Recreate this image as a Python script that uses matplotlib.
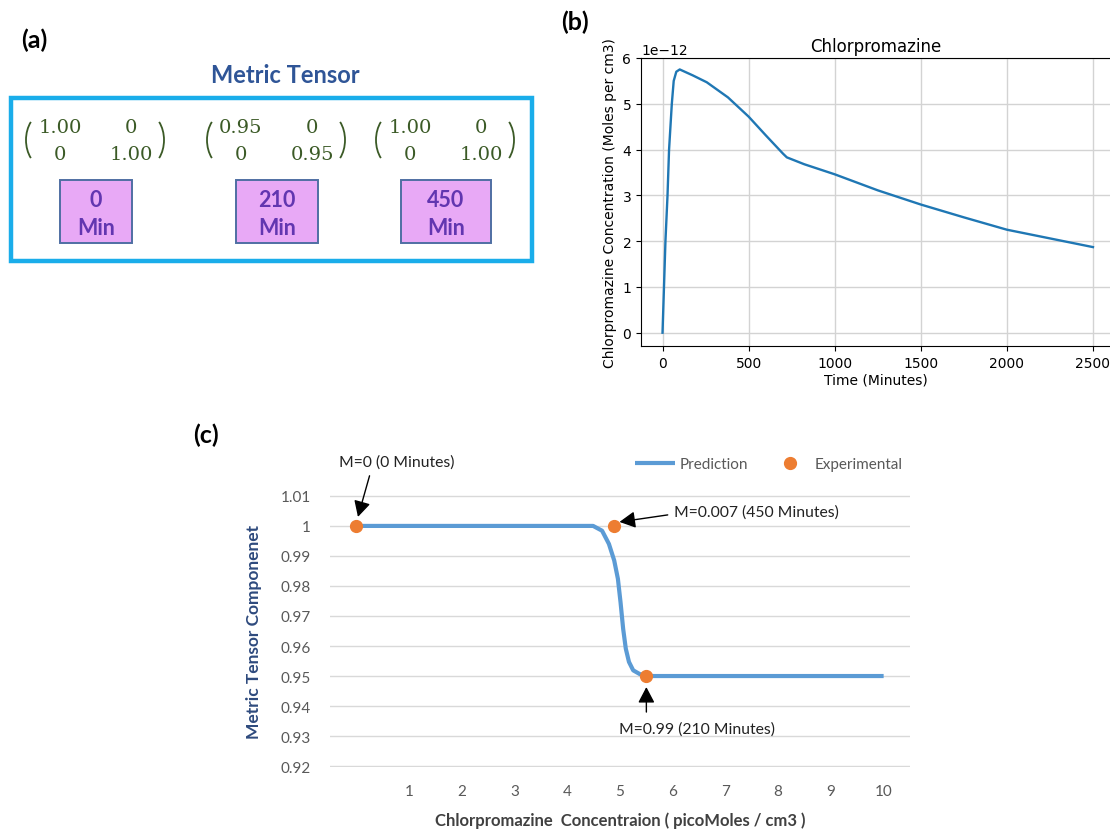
import numpy as np
import matplotlib.pyplot as plt
from matplotlib.patches import Rectangle, Arc

# (a) metric tensor components at each sampling time
tensor_times = [0, 210, 450]
tensor_g11 = [1.00, 0.95, 1.00]
tensor_g22 = [1.00, 0.95, 1.00]

# (b) simulated plasma concentration (moles per cm3)
time_min = [0, 17, 29, 38, 54, 65, 80, 100, 176, 257, 380, 500, 600, 700,
            722, 823, 1000, 1250, 1500, 1750, 2000, 2250, 2500]
conc_e12 = [0, 2.0, 3.0, 4.0, 5.0, 5.5, 5.7, 5.75, 5.62, 5.47, 5.14, 4.72,
            4.31, 3.91, 3.83, 3.68, 3.46, 3.11, 2.8, 2.52, 2.25, 2.06, 1.87]

# (c) metric tensor component vs concentration
pred_x = [0, 1, 2, 3, 4, 4.49, 4.66, 4.79, 4.89, 4.96, 5.01, 5.06, 5.11,
          5.17, 5.25, 5.38, 5.63, 6, 7, 8, 9, 10]
pred_y = [1, 1, 1, 1, 1, 1.0, 0.9984, 0.994, 0.9885, 0.9824, 0.9746, 0.9657,
          0.9591, 0.9547, 0.9519, 0.9506, 0.95, 0.95, 0.95, 0.95, 0.95, 0.95]
exp_x = [0, 4.88, 5.5]
exp_y = [1.0, 1.0, 0.95]
exp_labels = ["M=0 (0 Minutes)", "M=0.007 (450 Minutes)", "M=0.99 (210 Minutes)"]
y_ticks = [0.92, 0.93, 0.94, 0.95, 0.96, 0.97, 0.98, 0.99, 1.0, 1.01]
x_ticks = [1, 2, 3, 4, 5, 6, 7, 8, 9, 10]

W, H = 1110, 837
fig = plt.figure(figsize=(W / 100, H / 100), dpi=100)
sans = ['Lato', 'DejaVu Sans']

# overlay in pixel units for panel (a) and the panel letters
ov = fig.add_axes([0, 0, 1, 1])
ov.set_xlim(0, W)
ov.set_ylim(H, 0)
ov.axis('off')
ov.set_zorder(5)

for lbl, (px, py) in zip(['(a)', '(b)', '(c)'], [(34, 40), (575, 22), (206, 435)]):
    ov.text(px, py, lbl, family=sans, fontsize=18, fontweight='bold',
            ha='center', va='center', color='black')

ov.text(285, 75, 'Metric Tensor', family=sans, fontsize=17, fontweight='bold',
        color='#2F5597', ha='center', va='center')
ov.add_patch(Rectangle((11, 99), 521, 163, fill=False, edgecolor='#1AADEA', lw=3.2))

green = '#3B5A26'
mat_cx = [95, 276, 445]
box_w = [72, 82, 90]
for cx, bw, g11, g22, t in zip(mat_cx, box_w, tensor_g11, tensor_g22, tensor_times):
    ov.text(cx - 35, 128, f'{g11:.2f}', family='DejaVu Serif', fontsize=14,
            color=green, ha='center', va='center')
    ov.text(cx + 36, 128, '0', family='DejaVu Serif', fontsize=14,
            color=green, ha='center', va='center')
    ov.text(cx - 35, 155, '0', family='DejaVu Serif', fontsize=14,
            color=green, ha='center', va='center')
    ov.text(cx + 36, 155, f'{g22:.2f}', family='DejaVu Serif', fontsize=14,
            color=green, ha='center', va='center')
    ov.add_patch(Arc((cx - 50, 141), 38, 54, theta1=128, theta2=232,
                     color=green, lw=1.3))
    ov.add_patch(Arc((cx + 50, 141), 38, 54, theta1=-52, theta2=52,
                     color=green, lw=1.3))
    ov.add_patch(Rectangle((cx + 1 - bw / 2, 181), bw, 63, facecolor='#E8A9F6',
                           edgecolor='#4F6FA3', lw=1.4))
    ov.text(cx + 1, 200, f'{t}', family=sans, fontsize=15.5, fontweight='bold',
            color='#6236B0', ha='center', va='center')
    ov.text(cx + 1, 228, 'Min', family=sans, fontsize=15.5, fontweight='bold',
            color='#6236B0', ha='center', va='center')

# (b) concentration-time curve
axb = fig.add_axes([641 / W, 1 - 347 / H, (W - 641) / W, (347 - 59) / H])
axb.plot(time_min, np.array(conc_e12) * 1e-12, color='#1f77b4', lw=1.7)
axb.set_xlim(-125, 2599)
axb.set_ylim(-0.29e-12, 6e-12)
axb.set_xticks([0, 500, 1000, 1500, 2000, 2500])
axb.grid(True, color='#d3d3d3', lw=1)
axb.set_axisbelow(True)
axb.spines['right'].set_visible(False)
axb.tick_params(labelsize=10)
axb.yaxis.get_offset_text().set_fontsize(10)
axb.set_title('Chlorpromazine', fontsize=12, pad=5)
axb.set_xlabel('Time (Minutes)', fontsize=10, labelpad=2)
axb.set_ylabel('Chlorpromazine Concentration (Moles per cm3)', fontsize=10, labelpad=4)

# (c) predicted vs experimental metric tensor component
axc = fig.add_axes([330 / W, 1 - 768 / H, 580 / W, 272 / H])
axc.plot(pred_x, pred_y, color='#5B9BD5', lw=3, solid_capstyle='butt',
         label='Prediction', zorder=3)
axc.plot(exp_x, exp_y, 'o', color='#ED7D31', ms=8.5, label='Experimental', zorder=4)
axc.set_xlim(-0.5, 10.5)
axc.set_ylim(0.9197, 1.0103)
axc.set_xticks(x_ticks)
axc.set_yticks(y_ticks)
axc.set_yticklabels([f'{v:g}' for v in y_ticks])
axc.grid(True, axis='y', color='#D9D9D9', lw=1)
axc.set_axisbelow(True)
for s in axc.spines.values():
    s.set_visible(False)
axc.tick_params(length=0, labelcolor='#595959', labelsize=11)
axc.tick_params(axis='y', pad=14)
axc.tick_params(axis='x', pad=12)
for lab in axc.get_xticklabels() + axc.get_yticklabels():
    lab.set_family(sans)
axc.set_ylabel('Metric Tensor Componenet', family=sans, fontsize=12.5,
               fontweight='bold', color='#2E4A7D', labelpad=13)
axc.set_xlabel('Chlorpromazine  Concentraion ( picoMoles / cm3 )', family=sans,
               fontsize=12, fontweight='bold', color='#404040', labelpad=10)

leg = fig.legend(loc='center', bbox_to_anchor=(769 / W, 1 - 465 / H), ncol=2,
                 frameon=False, handlelength=2.6, handletextpad=0.35,
                 columnspacing=1.4, borderpad=0,
                 prop={'family': sans, 'size': 11})
for txt in leg.get_texts():
    txt.set_color('#595959')

# annotations: text spot and arrow tail/tip for each experimental point
ann_text = [(0.76, 1.0213, 'center'), (6.02, 1.00467, 'left'), (6.455, 0.93267, 'center')]
ann_tail = [(0.25, 1.0167), (5.905, 1.00367), (5.5, 0.938)]
ann_tip = [(0.03, 1.003), (4.99, 1.00133), (5.5, 0.94633)]
arrow_kw = dict(arrowstyle='-|>,head_length=0.8,head_width=0.42', color='black',
                lw=1.0, mutation_scale=12, shrinkA=0, shrinkB=0)
for lbl, (tx, ty, ha), tail, tip in zip(exp_labels, ann_text, ann_tail, ann_tip):
    axc.text(tx, ty, lbl, family=sans, fontsize=11.3, color='#222222',
             ha=ha, va='center')
    axc.annotate('', xy=tip, xytext=tail, arrowprops=arrow_kw, annotation_clip=False)

fig.savefig('out.png', dpi=100)
